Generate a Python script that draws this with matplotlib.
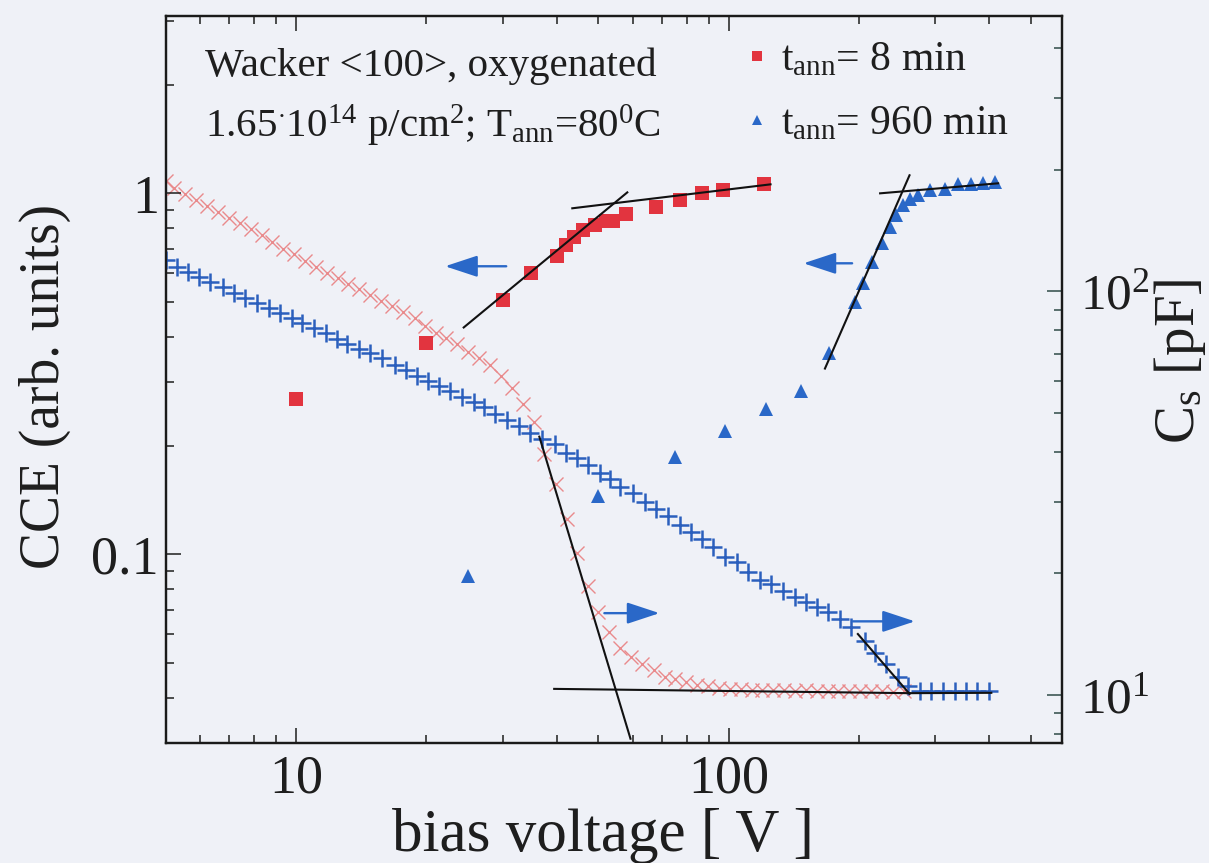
import matplotlib
matplotlib.use("Agg")
import matplotlib.pyplot as plt
from matplotlib.ticker import FixedLocator, LogLocator, NullFormatter, FixedFormatter, LogFormatterMathtext

plt.rcParams['font.family'] = ['Liberation Serif', 'DejaVu Serif']
plt.rcParams['mathtext.fontset'] = 'custom'
plt.rcParams['mathtext.rm'] = 'Liberation Serif'
plt.rcParams['mathtext.it'] = 'Liberation Serif:italic'
plt.rcParams['mathtext.bf'] = 'Liberation Serif:bold'

# ---------------- data ----------------
# CCE, t_ann = 8 min (red squares, left axis)
cce8_v = [10, 20, 30, 35, 40, 42, 44, 46, 49, 52, 54, 58, 68, 77, 87, 97, 121]
cce8 = [0.27, 0.384, 0.505, 0.60, 0.67, 0.72, 0.755, 0.79, 0.815, 0.836, 0.84,
        0.875, 0.914, 0.96, 1.0, 1.02, 1.06]

# CCE, t_ann = 960 min (blue triangles, left axis)
cce960_v = [25, 50, 75, 98, 122, 147, 171, 196, 205, 215, 226, 236, 244, 253,
            262, 274, 292, 316, 339, 363, 387, 413]
cce960 = [0.087, 0.145, 0.186, 0.22, 0.252, 0.283, 0.36, 0.499, 0.563, 0.644,
          0.727, 0.805, 0.869, 0.926, 0.962, 0.987, 1.02, 1.03, 1.06, 1.06,
          1.066, 1.073]

# Cs, t_ann = 8 min (light red x, right axis)
cs8_v = [5.0, 5.22, 5.53, 5.87, 6.22, 6.60, 7.00, 7.42, 7.87, 8.34, 8.80, 9.33,
         9.89, 10.5, 11.1, 11.8, 12.5, 13.2, 14.0, 14.8, 15.7, 16.7, 17.7, 18.8,
         19.9, 21.0, 22.2, 23.6, 25.0, 26.5, 28.1, 29.8, 31.5, 33.4, 35.4, 37.5,
         39.8, 42.2, 44.7, 47.4, 50.0, 53.0, 56.2, 59.6, 63.2, 67.1, 71.1, 75.0,
         79.5, 84.3, 89.4, 94.8, 100.5, 106.6, 113.0, 119.2, 126.5, 134.1, 142.2,
         150.8, 159.8, 169.5, 178.8, 189.6, 201.1, 213.2, 226.1, 239.7, 254.2]
cs8 = [186.9, 179.7, 173.6, 167.8, 162.2, 156.7, 151.4, 147.2, 142.3, 137.5,
       132.1, 127.0, 123.4, 118.6, 114.6, 110.8, 107.7, 104.1, 101.1, 97.7,
       94.5, 91.8, 88.8, 85.8, 82.0, 78.8, 76.6, 74.0, 70.7, 68.3, 65.7, 61.7,
       57.6, 52.6, 47.5, 39.4, 33.2, 27.2, 22.5, 18.6, 16.0, 14.3, 13.1, 12.4,
       11.9, 11.5, 11.1, 10.95, 10.77, 10.6, 10.5, 10.4, 10.35, 10.35, 10.3,
       10.3, 10.3, 10.3, 10.25, 10.3, 10.25, 10.25, 10.2, 10.25, 10.2, 10.2,
       10.2, 10.15, 10.2]

# Cs, t_ann = 960 min (blue +, right axis)
cs960_v = [5.0, 5.30, 5.62, 5.96, 6.32, 6.78, 7.19, 7.62, 8.12, 8.66, 9.18, 9.79,
           10.3, 11.0, 11.7, 12.4, 13.1, 14.0, 14.8, 15.8, 16.9, 17.9, 19.0,
           20.2, 21.4, 22.7, 24.2, 25.8, 27.2, 28.9, 30.8, 32.8, 34.8, 37.1,
           39.6, 42.0, 44.7, 47.2, 50.3, 53.3, 56.2, 60.0, 63.9, 67.8, 72.3,
           77.0, 81.7, 86.6, 91.8, 97.9, 104.3, 110.7, 118.0, 125.1, 133.4,
           142.2, 150.8, 159.8, 169.5, 180.7, 191.6, 206.4, 217.8, 230.9, 246.2,
           259.7, 276.8, 293.5, 312.9, 333.6, 353.8, 375.1, 399.9]
cs960 = [119.3, 114.6, 111.4, 108.3, 105.2, 102.3, 98.9, 96.1, 93.4, 90.8, 88.3,
         85.8, 83.4, 81.0, 78.8, 75.9, 73.8, 71.9, 70.1, 68.3, 65.7, 63.8, 61.7,
         60.0, 58.3, 56.6, 54.7, 53.2, 51.7, 49.7, 48.0, 46.4, 44.6, 43.1, 41.7,
         39.8, 38.7, 37.2, 35.5, 34.2, 32.8, 31.7, 30.1, 28.8, 27.7, 26.4, 25.3,
         24.3, 23.2, 22.0, 21.3, 20.2, 19.3, 18.8, 18.1, 17.5, 17.0, 16.5, 16.0,
         15.4, 14.7, 13.6, 12.7, 11.9, 11.1, 10.5, 10.2, 10.2, 10.2, 10.2, 10.2,
         10.2, 10.2]

# straight-line fits (end points)
fit_cce8_a_v, fit_cce8_a = [24.4, 58.3], [0.425, 1.006]
fit_cce8_b_v, fit_cce8_b = [43.5, 125], [0.909, 1.059]
fit_cce960_a_v, fit_cce960_a = [167, 262], [0.327, 1.122]
fit_cce960_b_v, fit_cce960_b = [224, 420], [1.0, 1.066]
fit_cs8_a_v, fit_cs8_a = [36.5, 59.3], [43.6, 7.79]
fit_cs8_b_v, fit_cs8_b = [39.5, 262], [10.35, 10.1]
fit_cs960_a_v, fit_cs960_a = [199, 262], [14.15, 10.06]
fit_cs960_b_v, fit_cs960_b = [262, 405], [10.1, 10.12]

x_ticks = [10, 100]
x_ticklabels = ["10", "100"]
y_ticks = [0.1, 1]
y_ticklabels = ["0.1", "1"]

# ---------------- style ----------------
BG = '#eff1f7'
RED = '#e2343f'
PINK = '#e98a8c'
BLUE = '#2a68c8'
BLUE_P = '#2b5fbd'
TXT = '#1e1e1e'

fig = plt.figure(figsize=(12.09, 8.63), dpi=100, facecolor=BG)
ax = fig.add_axes([0.1373, 0.139, 0.7411, 0.8425], facecolor=BG)
ax2 = ax.twinx()

ax.set_xscale('log')
ax.set_yscale('log')
ax2.set_yscale('log')
ax.set_xlim(5, 590)
ax.set_ylim(0.03, 3.1)
ax2.set_ylim(7.6, 480)

# Cs curves (right axis)
ax2.plot(cs8_v, cs8, ls='none', marker='x', ms=10.5, mew=1.0, color=PINK, zorder=2)
ax2.plot(cs960_v, cs960, ls='none', marker='+', ms=13, mew=1.8, color=BLUE_P, zorder=3)
for xs, ys in [(fit_cs8_a_v, fit_cs8_a), (fit_cs8_b_v, fit_cs8_b),
               (fit_cs960_a_v, fit_cs960_a), (fit_cs960_b_v, fit_cs960_b)]:
    ax2.plot(xs, ys, color='#111111', lw=1.5, zorder=4)

# CCE points (left axis)
sq, = ax.plot(cce8_v, cce8, ls='none', marker='s', ms=10, color=RED, mew=0,
              label='t$_{\\mathrm{ann}}$= 8 min')
tri, = ax.plot(cce960_v, cce960, ls='none', marker='^', ms=10, color=BLUE, mew=0,
               label='t$_{\\mathrm{ann}}$= 960 min')
for xs, ys in [(fit_cce8_a_v, fit_cce8_a), (fit_cce8_b_v, fit_cce8_b),
               (fit_cce960_a_v, fit_cce960_a), (fit_cce960_b_v, fit_cce960_b)]:
    ax.plot(xs, ys, color='#111111', lw=1.5)

# put CCE layer above
ax.set_zorder(ax2.get_zorder() + 1)
ax.patch.set_visible(False)
ax2.patch.set_visible(True)
ax2.patch.set_facecolor(BG)

# arrows
arrow_kw = dict(arrowstyle='-|>,head_length=1.0,head_width=0.33', mutation_scale=20,
                color=BLUE, lw=1.7, shrinkA=0, shrinkB=0)
ax.annotate('', xy=(22.1, 0.628), xytext=(30.6, 0.628), arrowprops=arrow_kw)
ax.annotate('', xy=(149, 0.64), xytext=(193, 0.64), arrowprops=arrow_kw)
ax.annotate('', xy=(69.2, 0.0687), xytext=(51.6, 0.0687), arrowprops=arrow_kw)
ax.annotate('', xy=(269.6, 0.0652), xytext=(193.6, 0.0652), arrowprops=arrow_kw)

# ticks
ax.xaxis.set_major_locator(FixedLocator(x_ticks))
ax.xaxis.set_major_formatter(FixedFormatter(x_ticklabels))
ax.xaxis.set_minor_locator(LogLocator(base=10, subs=range(2, 10)))
ax.xaxis.set_minor_formatter(NullFormatter())
ax.yaxis.set_major_locator(FixedLocator(y_ticks))
ax.yaxis.set_major_formatter(FixedFormatter(y_ticklabels))
ax.yaxis.set_minor_locator(LogLocator(base=10, subs=range(2, 10)))
ax.yaxis.set_minor_formatter(NullFormatter())
ax2.yaxis.set_major_locator(LogLocator(base=10))
ax2.yaxis.set_major_formatter(LogFormatterMathtext())
ax2.yaxis.set_minor_locator(LogLocator(base=10, subs=range(2, 10)))
ax2.yaxis.set_minor_formatter(NullFormatter())

ax.tick_params(axis='both', which='both', direction='in', colors=TXT, labelsize=39)
ax.tick_params(axis='x', which='both', top=True, bottom=True)
ax.tick_params(axis='y', which='both', left=True, right=False)
ax.tick_params(which='major', length=11, width=1.1)
ax.tick_params(which='minor', length=6, width=1.1)
ax.tick_params(axis='x', which='major', pad=8)
ax.tick_params(axis='y', which='major', pad=5)
ax2.tick_params(axis='y', which='both', direction='in', colors='#2f4a48', labelcolor=TXT,
                labelsize=37)
ax2.tick_params(axis='y', which='major', length=11, width=1.1, pad=13)
ax2.tick_params(axis='y', which='minor', length=6, width=1.1)
ax2.tick_params(axis='x', which='both', top=False, bottom=False, labeltop=False, labelbottom=False)

for a in (ax, ax2):
    for s in a.spines.values():
        s.set_linewidth(1.6)
        s.set_color('#1a1a1a')

# labels
ax.set_xlabel('bias voltage [ V ]', fontsize=44, color=TXT, va='center')
ax.xaxis.set_label_coords(0.4877, -0.128)
ax.set_ylabel('CCE (arb. units)', fontsize=40, color=TXT, va='center')
ax.yaxis.set_label_coords(-0.135, 0.491)
ax2.set_ylabel('C$_{\\mathrm{s}}$ [pF]', fontsize=41, color=TXT, va='center', rotation=90)
ax2.yaxis.set_label_coords(1.1317, 0.525)

# annotation text
ax.text(0.0435, 0.9175, 'Wacker <100>, oxygenated', transform=ax.transAxes,
        fontsize=29.5, color=TXT, va='baseline', ha='left')
ax.text(0.0435, 0.8336, '1.65$^{\\cdot}$10$^{14}$ p/cm$^{2}$; T$_{\\mathrm{ann}}$=80$^{0}$C',
        transform=ax.transAxes, fontsize=29.5, color=TXT, va='baseline', ha='left')

leg = ax.legend(handles=[sq, tri], loc='upper left', bbox_to_anchor=(0.6496, 0.966),
                frameon=False, fontsize=30, handlelength=0.45, handletextpad=0.35,
                labelspacing=0.62, borderpad=0, borderaxespad=0, markerscale=0.7)
for t in leg.get_texts():
    t.set_color(TXT)

fig.savefig('out.png', dpi=100, facecolor=BG)
